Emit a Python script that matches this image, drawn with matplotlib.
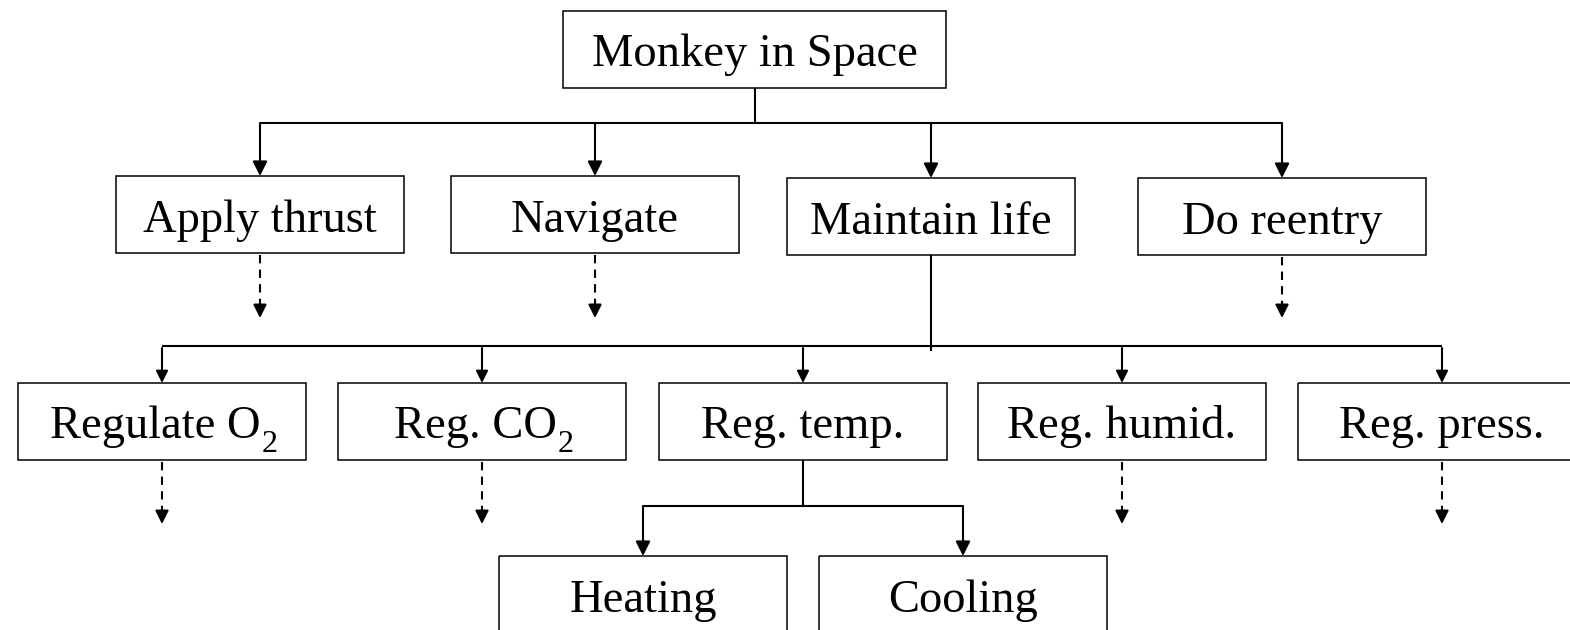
import matplotlib
matplotlib.use('Agg')
from matplotlib import pyplot as plt
from matplotlib.patches import Rectangle

plt.rcParams['font.family'] = ['Liberation Serif', 'DejaVu Serif']

# tree content (text after '_' is drawn as a subscript)
root = 'Monkey in Space'
level1 = ['Apply thrust', 'Navigate', 'Maintain life', 'Do reentry']
level2 = ['Regulate O_2', 'Reg. CO_2', 'Reg. temp.', 'Reg. humid.', 'Reg. press.']
level3 = ['Heating', 'Cooling']
expanded1 = 'Maintain life'
expanded2 = 'Reg. temp.'

# layout (pixel space, y down)
root_box = (563, 11, 383, 77)
l1_x = [116, 451, 787, 1138]
l1_y = [176, 176, 178, 178]
l2_x = [18, 338, 659, 978, 1298]
l2_y = 383
l3_x = [499, 819]
l3_y = 556
bw, bh = 288, 77

fig = plt.figure(figsize=(15.7, 6.3), dpi=100)
ax = fig.add_axes([0, 0, 1, 1])
ax.set_xlim(0, 1570)
ax.set_ylim(630, 0)
ax.axis('off')

FS = 33.5
SUB_FS = 23
LW = 1.5
HEAD = 15


def box(x, y, w, h, label):
    ax.add_patch(Rectangle((x, y), w, h, fill=False, lw=1.1, ec='black'))
    cx = x + w / 2
    base = y + h / 2 + 17
    if '_' in label:
        main, sub = label.split('_')
        t = ax.text(cx - 7, base, main, ha='center', va='baseline', fontsize=FS)
        ax.annotate(sub, xy=(1, base + 13), xycoords=(t, 'data'),
                    xytext=(1, 0), textcoords='offset pixels',
                    ha='left', va='baseline', fontsize=SUB_FS)
    else:
        ax.text(cx, base, label, ha='center', va='baseline', fontsize=FS)


def arrow(x, y0, y1, dashed=False, scale=20):
    if dashed:
        ax.plot([x, x], [y0, y1 - HEAD + 1], color='black', lw=LW,
                dashes=(4, 3), solid_capstyle='butt', dash_capstyle='butt')
        y0 = y1 - HEAD
    ax.annotate('', xy=(x, y1), xytext=(x, y0),
                arrowprops=dict(arrowstyle='-|>', color='black', lw=LW,
                                mutation_scale=scale, shrinkA=0, shrinkB=0))


def line(xs, ys):
    ax.plot(xs, ys, color='black', lw=LW, solid_capstyle='butt')


# root
box(*root_box, root)
rc = root_box[0] + root_box[2] / 2
line([rc, rc], [88, 123])
c1 = [x + bw / 2 for x in l1_x]
line([c1[0], c1[-1]], [123, 123])
for i, lab in enumerate(level1):
    arrow(c1[i], 123, l1_y[i], scale=22)
    box(l1_x[i], l1_y[i], bw, bh, lab)
    if lab == expanded1:
        line([c1[i], c1[i]], [l1_y[i] + bh, 351])
    else:
        arrow(c1[i], l1_y[i] + bh + 2, 318, dashed=True)

c2 = [x + bw / 2 for x in l2_x]
line([c2[0], c2[-1]], [346, 346])
for i, lab in enumerate(level2):
    arrow(c2[i], 348, l2_y, scale=18)
    box(l2_x[i], l2_y, bw, bh, lab)
    if lab == expanded2:
        line([c2[i], c2[i]], [l2_y + bh, 506])
    else:
        arrow(c2[i], l2_y + bh + 2, 524, dashed=True)

c3 = [x + bw / 2 for x in l3_x]
line([c3[0], c3[-1]], [506, 506])
for i, lab in enumerate(level3):
    arrow(c3[i], 506, l3_y, scale=22)
    box(l3_x[i], l3_y, bw, bh, lab)

fig.savefig('out.png', dpi=100)
